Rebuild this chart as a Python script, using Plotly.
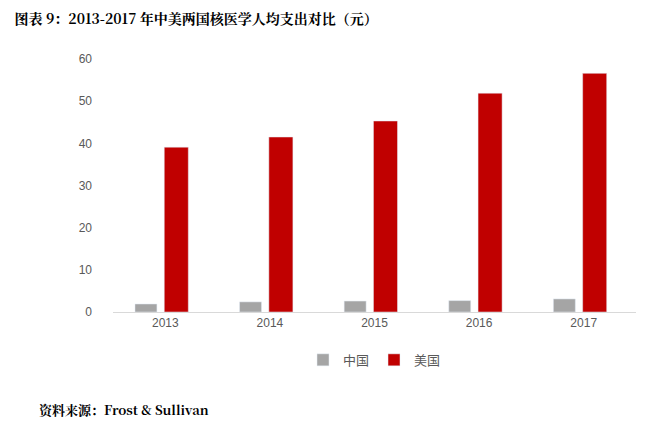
import plotly.graph_objects as go

years = ["2013", "2014", "2015", "2016", "2017"]
china = [1.9, 2.4, 2.6, 2.7, 3.1]
usa = [39.1, 41.5, 45.3, 51.9, 56.6]

fig = go.Figure()
fig.add_bar(x=years, y=china, name="中国", marker_color="#A5A5A5", width=0.21, offset=-0.29)
fig.add_bar(x=years, y=usa, name="美国", marker_color="#C00000", width=0.23, offset=-0.01)

fig.update_layout(
    width=653, height=424,
    paper_bgcolor="white", plot_bgcolor="white",
    margin=dict(l=105, r=25, t=51, b=120),
    font=dict(family="Liberation Sans, Arial", size=12, color="#595959"),
    showlegend=True,
    legend=dict(orientation="h", x=0.5, xanchor="center", y=-0.13, yanchor="top",
                font=dict(family="Noto Sans CJK SC", size=13)),
    title=dict(text="<b>图表 9：2013-2017 年中美两国核医学人均支出对比（元）</b>", x=0.01, xanchor="left", y=0.985,
               font=dict(family="Noto Serif CJK SC, Noto Sans CJK SC", size=14, color="black")),
    annotations=[dict(text="<b>资料来源：Frost & Sullivan</b>", xref="paper", yref="paper", x=-0.145, y=-0.34,
                      xanchor="left", yanchor="top", showarrow=False,
                      font=dict(family="Noto Serif CJK SC, Noto Sans CJK SC", size=13, color="black"))],
)
fig.update_xaxes(showline=True, linecolor="#D9D9D9", ticks="", tickfont=dict(size=12))
fig.update_yaxes(range=[0, 60], dtick=10, showgrid=False, zeroline=False, ticks="", tickfont=dict(size=12), ticksuffix="      ")
fig.write_html("out.html")
